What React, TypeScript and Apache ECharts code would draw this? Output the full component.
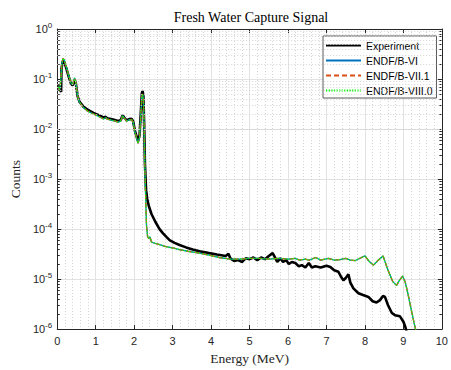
import React, { useEffect, useRef } from "react";
import * as echarts from "echarts";

const titleText = "Fresh Water Capture Signal";
const xName = "Energy (MeV)";
const yName = "Counts";
const seriesNames = ["Experiment", "ENDF/B-VI", "ENDF/B-VII.1", "ENDF/B-VIII.0"];

const expEnergy = [
  0.03, 0.08, 0.1, 0.11, 0.14, 0.16, 0.19, 0.24, 0.3, 0.36, 0.4, 0.45, 0.48, 0.53, 0.58, 0.68, 0.8, 0.94,
  1.08, 1.2, 1.26, 1.3, 1.45, 1.58, 1.65, 1.7, 1.74, 1.8, 1.87, 1.93, 1.97, 2.02, 2.07, 2.1, 2.14, 2.17,
  2.2, 2.22, 2.24, 2.26, 2.28, 2.31, 2.34, 2.38, 2.45, 2.55, 2.66, 2.75, 2.85, 2.92, 3.05, 3.18, 3.35,
  3.52, 3.7, 3.95, 4.15, 4.38, 4.45, 4.5, 4.6, 4.7, 4.8, 4.9, 5.0, 5.1, 5.2, 5.3, 5.4, 5.5, 5.6, 5.65,
  5.72, 5.8, 5.87, 5.95, 6.02, 6.1, 6.19, 6.28, 6.36, 6.45, 6.54, 6.62, 6.71, 6.85, 7.0, 7.1, 7.2, 7.31,
  7.38, 7.44, 7.5, 7.57, 7.62, 7.7, 7.83, 7.95, 8.09, 8.2, 8.3, 8.39, 8.47, 8.52, 8.6, 8.7, 8.78, 8.91,
  9.0, 9.05, 9.08,
];
const expCounts = [
  0.075, 0.06, 0.055, 0.16, 0.22, 0.24, 0.21, 0.16, 0.11, 0.08, 0.075, 0.095, 0.085, 0.045, 0.035, 0.028,
  0.024, 0.021, 0.019, 0.017, 0.0175, 0.0165, 0.0155, 0.0145, 0.015, 0.019, 0.017, 0.015, 0.0158, 0.016,
  0.0145, 0.0092, 0.0068, 0.0058, 0.0075, 0.02, 0.052, 0.058, 0.045, 0.012, 0.002, 0.0006, 0.0004, 0.00029,
  0.0002, 0.00014, 0.0001, 0.000082, 0.000068, 0.00006, 0.000053, 0.000048, 0.000043, 0.000039, 0.000036,
  0.000033, 0.000031, 0.000029, 0.000032, 0.000026, 0.000023, 0.000024, 0.000022, 0.000026, 0.000025,
  0.000027, 0.000024, 0.000027, 0.000025, 0.000029, 0.000033, 0.000028, 0.000022, 0.000026, 0.000022,
  0.000024, 0.00002, 0.000022, 0.000021, 0.000018, 0.000019, 0.000017, 0.000021, 0.000017, 0.000018,
  0.000017, 0.0000185, 0.0000175, 0.000015, 0.000014, 0.000011, 0.0000095, 0.0000105, 0.0000125,
  0.0000085, 0.0000065, 0.0000052, 0.0000048, 0.0000044, 0.0000036, 0.0000034, 0.0000038, 0.0000046,
  0.0000044, 0.000003, 0.0000021, 0.0000019, 0.0000018, 0.0000014, 0.0000011, 0.0000009,
];

const simEnergy = [
  0.03, 0.06, 0.09, 0.12, 0.15, 0.18, 0.24, 0.3, 0.36, 0.4, 0.45, 0.48, 0.53, 0.58, 0.68, 0.8, 0.94, 1.08,
  1.2, 1.26, 1.3, 1.45, 1.58, 1.65, 1.7, 1.74, 1.8, 1.87, 1.93, 1.97, 2.02, 2.07, 2.1, 2.14, 2.17, 2.2,
  2.22, 2.24, 2.26, 2.28, 2.3, 2.32, 2.35, 2.38, 2.41, 2.45, 2.55, 2.66, 2.8, 3.0, 3.18, 3.4, 3.7, 3.95,
  4.21, 4.5, 4.73, 5.0, 5.25, 5.5, 5.75, 6.02, 6.18, 6.3, 6.45, 6.55, 6.72, 6.85, 7.05, 7.2, 7.35, 7.5,
  7.62, 7.75, 8.0, 8.1, 8.22, 8.35, 8.47, 8.6, 8.72, 8.82, 8.9, 8.98, 9.05, 9.12, 9.2, 9.28, 9.33,
];
const simCounts = [
  0.07, 0.06, 0.09, 0.2, 0.26, 0.24, 0.17, 0.115, 0.082, 0.078, 0.105, 0.09, 0.045, 0.034, 0.027, 0.0225,
  0.02, 0.0178, 0.016, 0.0168, 0.0158, 0.0148, 0.0138, 0.0145, 0.0185, 0.0165, 0.0145, 0.0152, 0.0155,
  0.014, 0.0088, 0.0062, 0.0052, 0.0068, 0.018, 0.045, 0.05, 0.04, 0.01, 0.0015, 0.0004, 0.00012, 0.00007,
  0.000065, 0.00007, 0.000055, 0.000052, 0.000049, 0.000045, 0.000042, 0.000039, 0.000036, 0.000033,
  0.00003, 0.000027, 0.000025, 0.000025, 0.000026, 0.000026, 0.000025, 0.000026, 0.000025, 0.000026,
  0.000024, 0.000025, 0.000024, 0.000027, 0.000024, 0.000026, 0.000024, 0.0000245, 0.000026, 0.000024,
  0.0000235, 0.000029, 0.000023, 0.000019, 0.000024, 0.000029, 0.000015, 0.000009, 0.0000075, 0.0000095,
  0.0000115, 0.0000085, 0.000005, 0.0000025, 0.0000013, 0.0000009,
];

const yMinorGrid = [
  2e-6, 3e-6, 4e-6, 5e-6, 6e-6, 7e-6, 8e-6, 9e-6,
  2e-5, 3e-5, 4e-5, 5e-5, 6e-5, 7e-5, 8e-5, 9e-5,
  2e-4, 3e-4, 4e-4, 5e-4, 6e-4, 7e-4, 8e-4, 9e-4,
  2e-3, 3e-3, 4e-3, 5e-3, 6e-3, 7e-3, 8e-3, 9e-3,
  2e-2, 3e-2, 4e-2, 5e-2, 6e-2, 7e-2, 8e-2, 9e-2,
  0.2, 0.3, 0.4, 0.5, 0.6, 0.7, 0.8, 0.9,
];

const zip = (xs: number[], ys: number[]) => xs.map((x, i) => [x, ys[i]]);

const AX = "#262626";
const SANS = "Liberation Sans, Arial, sans-serif";
const SERIF = "Liberation Serif, Times New Roman, serif";

export default function App() {
  const ref = useRef<HTMLDivElement>(null);
  useEffect(() => {
    document.body.style.margin = "0";
    const chart = echarts.init(ref.current!, null, { renderer: "svg" });
    const labelFmt = (v: number) => {
      const e = Math.round(Math.log10(v));
      return `{b|10}{s|${e}}`;
    };
    const axisCommon = {
      axisLine: { show: true, onZero: false, lineStyle: { color: AX, width: 1 } },
    };
    chart.setOption({
      animation: false,
      backgroundColor: "#ffffff",
      title: {
        text: titleText,
        left: 251,
        top: 10,
        padding: 0,
        textAlign: "center",
        textStyle: { fontFamily: SERIF, fontSize: 14, fontWeight: "normal", color: "#000" },
      },
      legend: {
        orient: "vertical",
        left: 323,
        top: 36,
        padding: [4, 4, 2, 2],
        itemWidth: 35,
        itemHeight: 11,
        itemGap: 4,
        backgroundColor: "#fff",
        borderColor: "#5a5a5a",
        borderWidth: 1,
        borderRadius: 0,
        data: seriesNames,
        itemStyle: { color: "transparent", borderColor: "transparent", borderWidth: 0, opacity: 0 },
        textStyle: { fontFamily: SANS, fontSize: 10.5, color: "#000" },
      },
      grid: { left: 57, right: 7, top: 29, bottom: 34, containLabel: false },
      xAxis: [
        {
          type: "value",
          min: 0,
          max: 10,
          interval: 1,
          position: "bottom",
          name: xName,
          nameLocation: "middle",
          nameGap: 20,
          nameTextStyle: { fontFamily: SERIF, fontSize: 13.5, color: AX },
          ...axisCommon,
          axisTick: { show: true, inside: true, length: 4, lineStyle: { color: AX } },
          axisLabel: { margin: 6, fontFamily: SANS, fontSize: 11, color: AX },
          splitLine: { show: true, lineStyle: { color: "#e2e2e2", width: 1 } },
          minorTick: { show: false, splitNumber: 5 },
          minorSplitLine: { show: true, lineStyle: { color: "#d4d4d4", width: 1, type: [1, 2] } },
        },
        {
          type: "value",
          min: 0,
          max: 10,
          interval: 1,
          position: "top",
          ...axisCommon,
          axisTick: { show: true, inside: true, length: 4, lineStyle: { color: AX } },
          axisLabel: { show: false },
          splitLine: { show: false },
        },
      ],
      yAxis: [
        {
          type: "log",
          logBase: 10,
          min: 1e-6,
          max: 1,
          position: "left",
          name: yName,
          nameLocation: "middle",
          nameGap: 33,
          nameTextStyle: { fontFamily: SERIF, fontSize: 13.5, color: AX },
          ...axisCommon,
          axisTick: { show: true, inside: true, length: 4, lineStyle: { color: AX } },
          minorTick: { show: true, splitNumber: 9, length: 2.5, lineStyle: { color: AX } },
          axisLabel: {
            margin: 5,
            formatter: labelFmt,
            rich: {
              b: { fontFamily: SANS, fontSize: 11, color: AX },
              s: { fontFamily: SANS, fontSize: 8, color: AX, padding: [0, 0, 7, 0] },
            },
          },
          splitLine: { show: true, lineStyle: { color: "#e2e2e2", width: 1 } },
          minorSplitLine: { show: false },
        },
        {
          type: "log",
          logBase: 10,
          min: 1e-6,
          max: 1,
          position: "right",
          ...axisCommon,
          axisTick: { show: true, inside: true, length: 4, lineStyle: { color: AX } },
          minorTick: { show: true, splitNumber: 9, length: 2.5, lineStyle: { color: AX } },
          axisLabel: { show: false },
          splitLine: { show: false },
        },
      ],
      series: [
        {
          name: "grid-minor",
          type: "line",
          data: [],
          silent: true,
          markLine: {
            silent: true,
            symbol: "none",
            label: { show: false },
            lineStyle: { color: "#d4d4d4", width: 1, type: [1, 2] },
            data: yMinorGrid.map((v) => ({ yAxis: v })),
          },
        },
        {
          name: seriesNames[0],
          type: "line",
          data: zip(expEnergy, expCounts),
          showSymbol: false,
          symbol: "none",
          color: "#000000",
          lineStyle: { color: "#000000", width: 2.6 },
        },
        {
          name: seriesNames[1],
          type: "line",
          data: zip(simEnergy, simCounts),
          showSymbol: false,
          symbol: "none",
          color: "#0072BD",
          lineStyle: { color: "#0072BD", width: 1.3 },
        },
        {
          name: seriesNames[2],
          type: "line",
          data: zip(simEnergy, simCounts),
          showSymbol: false,
          symbol: "none",
          color: "#D95319",
          lineStyle: { color: "#D95319", width: 1.3, type: [5, 3] },
        },
        {
          name: seriesNames[3],
          type: "line",
          data: zip(simEnergy, simCounts),
          showSymbol: false,
          symbol: "none",
          color: "#00FF00",
          lineStyle: { color: "#00FF00", width: 1.3, type: [1.3, 1.3] },
        },
      ],
    });
    return () => chart.dispose();
  }, []);
  return <div ref={ref} style={{ width: 451, height: 370 }} />;
}
